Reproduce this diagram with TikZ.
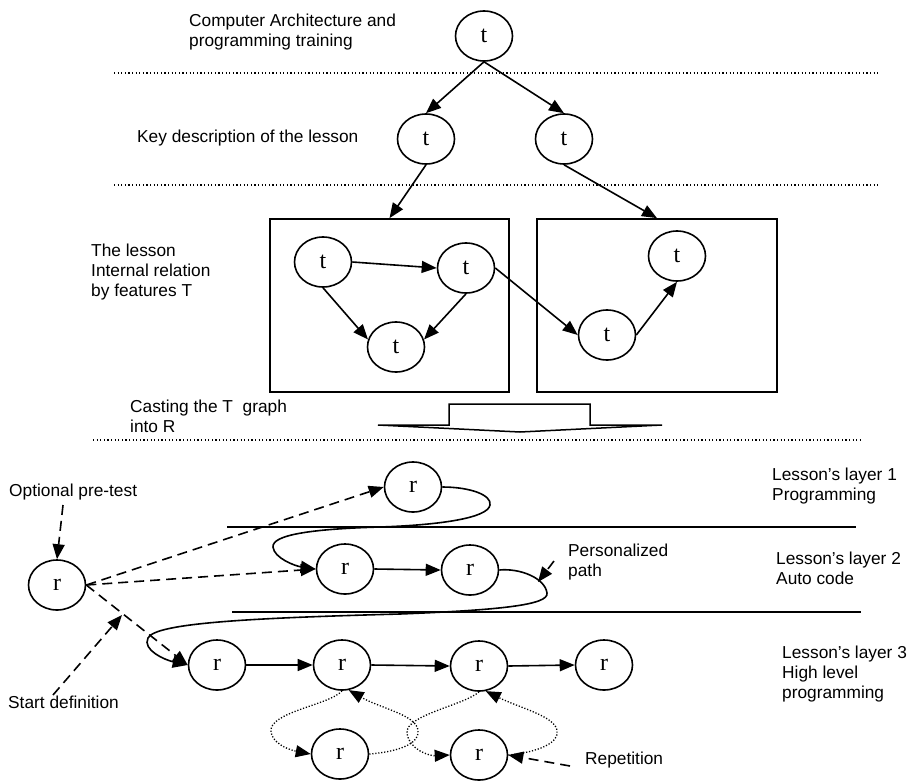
\documentclass[tikz,border=0pt]{standalone}
\usepackage{fontspec}
\setmainfont{Liberation Sans}
\newfontfamily\serifnode{Liberation Serif}
\usetikzlibrary{arrows.meta,shapes.geometric}
\begin{document}
\begin{tikzpicture}[x=1pt,y=-1pt,
  nd/.style={draw,ellipse,line width=1.6pt,minimum width=57pt,minimum height=50pt,inner sep=0pt,font=\serifnode\fontsize{24}{24}\selectfont},
  lbl/.style={anchor=west,inner sep=0pt,align=left,font=\fontsize{17.3}{20}\selectfont},
  ahead/.style={-{Triangle[length=15pt,width=12pt]}},
  arr/.style={ahead,line width=1.6pt},
  dsharr/.style={ahead,line width=1.6pt,dash pattern=on 10pt off 6pt},
  dotarr/.style={ahead,line width=1.3pt,dash pattern=on 1.2pt off 1.8pt},
  sepline/.style={line width=1.1pt,dash pattern=on 1.1pt off 2.5pt},
  layline/.style={line width=1.7pt},
  boxfr/.style={draw,line width=1.7pt,inner sep=0pt}
]
\useasboundingbox (0,0) rectangle (909,781);

% separators
\draw[sepline] (114,73) -- (880,73);
\draw[sepline] (114,185) -- (880,185);
\draw[sepline] (93,440) -- (860,440);

% top part
\node[lbl] (lab1) at (189,32) {Computer Architecture and\\programming training};
\node[nd] (t0) at (484,36) {t};
\node[lbl] (lab2) at (137,138) {Key description of the lesson};
\node[nd] (k1) at (426,139) {t};
\node[nd] (k2) at (564,139) {t};
\draw[arr] (t0.south) -- (k1.north);
\draw[arr] (t0.south) -- (k2.north);

% boxes
\node[boxfr,minimum width=239pt,minimum height=173pt] (b1) at (389.5,305.5) {};
\node[boxfr,minimum width=240pt,minimum height=173pt] (b2) at (657,305.5) {};
\draw[arr] (k1.south) -- (b1.north);
\draw[arr] (k2.south) -- (b2.north);
\node[lbl] (lab3) at (91,272) {The lesson\\Internal relation\\by features T};

\node[nd] (t1) at (323,262) {t};
\node[nd] (t2) at (466,268) {t};
\node[nd] (t3) at (396,347) {t};
\node[nd] (t4) at (607,335) {t};
\node[nd] (t5) at (677,256) {t};
\draw[arr] (t1.east) -- (t2.west);
\draw[arr] (t1.south) -- (t3.165);
\draw[arr] (t2.south) -- (t3.15);
\draw[arr] (t2.east) -- (t4.west);
\draw[arr] (t4.east) -- (t5.south);

% casting arrow
\node[lbl] (lab4) at (130,416) {Casting the T\ \ graph\\into R};
\draw[line width=1.5pt,line join=miter] (449,425) -- (449,404) -- (590,404) -- (590,425) -- (662,425) -- (520,432) -- (378,425) -- cycle;

% layers
\draw[layline] (227,527) -- (856,527);
\draw[layline] (232,612) -- (861,612);
\node[lbl] (lay1) at (772,486.5) {Lesson’s layer 1\\Programming};
\node[lbl] (lay2) at (776,568) {Lesson’s layer 2\\Auto code};
\node[lbl] (lay3) at (782,674.5) {Lesson’s layer 3\\High level\\programming};

\node[nd] (r0) at (57,585) {r};
\node[nd] (r1) at (413,487) {r};
\node[nd] (r2a) at (345,569) {r};
\node[nd] (r2b) at (470,570) {r};
\node[nd] (r3a) at (217,665) {r};
\node[nd] (r3b) at (342,665) {r};
\node[nd] (r3c) at (479,666) {r};
\node[nd] (r3d) at (604,665) {r};
\node[nd] (r4) at (340,754) {r};
\node[nd] (r5) at (479,755) {r};

% labels left
\node[lbl] (opt) at (9,492) {Optional pre-test};
\node[lbl] (std) at (8,702) {Start definition};
\coordinate (optS) at (63,505);
\coordinate (stdS) at (53,695);
\coordinate (stdE) at (122,615);
\draw[dsharr] (optS) -- (r0.north);
\draw[dsharr] (stdS) -- (stdE);

% dashed from r0
\draw[dsharr] (r0.east) -- (r1.west);
\draw[dsharr] (r0.east) -- (r2a.west);
\draw[dsharr] (r0.east) -- (r3a.west);

% layer arrows
\draw[arr] (r2a.east) -- (r2b.west);
\draw[arr] (r3a.east) -- (r3b.west);
\draw[arr] (r3b.east) -- (r3c.west);
\draw[arr] (r3c.east) -- (r3d.west);

% personalized path curves
\draw[arr] (r1.east) .. controls (470,487) and (492,495) .. (490,505)
  .. controls (488,518) and (440,525) .. (380,527)
  .. controls (310,529) and (272,535) .. (273,547)
  .. controls (274,558) and (295,566) .. (r2a.west);
\draw[arr] (r2b.east) .. controls (520,568) and (545,578) .. (547,593)
  .. controls (549,605) and (500,610) .. (400,614)
  .. controls (250,618) and (155,623) .. (148,638)
  .. controls (142,650) and (165,660) .. (r3a.west);
\node[lbl] (pers) at (568,562) {Personalized\\path};
\coordinate (persS) at (554,561);
\coordinate (persE) at (538,582);
\draw[dsharr] (persS) -- (persE);

% repetition loops
\draw[dotarr] (r3b.south) .. controls (330,705) and (268,712) .. (271,732)
  .. controls (274,748) and (300,752) .. (r4.west);
\draw[dotarr] (r4.east) .. controls (395,752) and (420,745) .. (418,730)
  .. controls (416,715) and (380,708) .. (r3b.-75);
\draw[dotarr] (r3c.south) .. controls (465,705) and (405,715) .. (407,733)
  .. controls (409,750) and (430,756) .. (r5.west);
\draw[dotarr] (r5.east) .. controls (540,752) and (560,742) .. (557,730)
  .. controls (554,716) and (520,708) .. (r3c.-75);
\node[lbl] (rep) at (585,760) {Repetition};
\coordinate (repS) at (570,766);
\draw[dsharr] (repS) -- (r5.east);
\end{tikzpicture}
\end{document}
